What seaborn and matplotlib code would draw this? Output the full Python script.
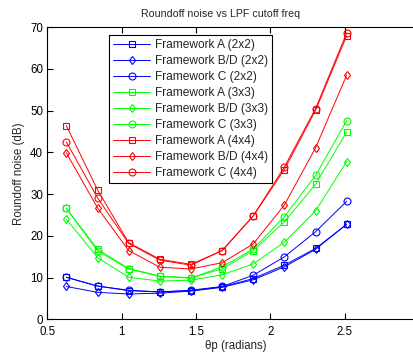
import matplotlib
matplotlib.use("Agg")
import matplotlib.pyplot as plt
import seaborn as sns
import pandas as pd

# cutoff angles (radians)
theta = [0.628, 0.838, 1.047, 1.257, 1.466, 1.676, 1.885, 2.094, 2.304, 2.513]

# roundoff noise (dB) per framework / block size
a_2x2 = [10.1, 8.0, 6.9, 6.6, 6.9, 7.8, 9.8, 13.0, 17.0, 22.8]
bd_2x2 = [7.9, 6.5, 6.1, 6.3, 6.8, 7.7, 9.5, 12.6, 16.8, 22.8]
c_2x2 = [10.1, 8.0, 7.0, 6.6, 7.0, 7.9, 10.6, 15.0, 21.0, 28.3]
a_3x3 = [26.6, 16.8, 12.2, 10.4, 10.0, 12.1, 16.5, 23.4, 32.4, 44.9]
bd_3x3 = [24.0, 14.8, 10.1, 9.2, 9.4, 10.7, 13.3, 18.5, 26.0, 37.8]
c_3x3 = [26.6, 16.4, 12.1, 10.3, 9.9, 12.6, 16.9, 24.6, 34.5, 47.6]
a_4x4 = [46.4, 31.0, 18.4, 14.4, 13.2, 16.5, 24.8, 35.9, 50.1, 67.9]
bd_4x4 = [39.9, 26.7, 16.5, 12.5, 12.1, 13.6, 18.1, 27.4, 41.1, 58.5]
c_4x4 = [42.5, 29.1, 18.2, 14.2, 13.0, 16.5, 24.8, 36.5, 50.5, 68.6]

labels = ["Framework A (2x2)", "Framework B/D (2x2)", "Framework C (2x2)",
          "Framework A (3x3)", "Framework B/D (3x3)", "Framework C (3x3)",
          "Framework A (4x4)", "Framework B/D (4x4)", "Framework C (4x4)"]
series = [a_2x2, bd_2x2, c_2x2, a_3x3, bd_3x3, c_3x3, a_4x4, bd_4x4, c_4x4]
colors = ["#0000ff"] * 3 + ["#00ff00"] * 3 + ["#ff0000"] * 3
markers = ["s", "d", "o"] * 3

sns.set_style("ticks")
plt.rcParams["font.family"] = ["Liberation Sans", "DejaVu Sans"]
plt.rcParams["font.size"] = 8

fig = plt.figure(figsize=(4.14, 3.54), dpi=100)
# axes runs a little past the right edge, like the cropped original
ax = fig.add_axes([0.1143, 0.0975, 0.91, 0.826])

for lab, vals, col, mk in zip(labels, series, colors, markers):
    df = pd.DataFrame({"theta": theta, "noise": vals})
    sns.lineplot(data=df, x="theta", y="noise", ax=ax, color=col, marker=mk,
                 markersize=5 if mk != "d" else 4.5, markerfacecolor="none",
                 markeredgecolor=col, markeredgewidth=0.8, linewidth=0.7,
                 label=lab)

ax.set_xlim(0.5, 3.0 * 0.91 / 0.898 - 0.5 * (0.91 / 0.898 - 1))
ax.set_ylim(0, 70)
ax.set_xticks([0.5, 1, 1.5, 2, 2.5])
ax.set_xticklabels(["0.5", "1", "1.5", "2", "2.5"])
ax.set_yticks(range(0, 71, 10))
ax.tick_params(direction="in", length=4, width=0.8, top=True, right=False,
               labelsize=8.3, colors="black")
ax.tick_params(axis="x", pad=5)
ax.tick_params(axis="y", pad=3)
for sp in ax.spines.values():
    sp.set_linewidth(0.8)
    sp.set_color("black")

ax.set_xlabel("θp (radians)", fontsize=8.3, labelpad=1)
ax.set_ylabel("Roundoff noise (dB)", fontsize=8.3, labelpad=4)
ax.set_title("Roundoff noise vs LPF cutoff freq", fontsize=7.7, x=0.46, pad=7)

leg = ax.legend(loc="upper left", bbox_to_anchor=(0.263, 0.901),
                bbox_transform=fig.transFigure, fontsize=8.6, frameon=True,
                fancybox=False, edgecolor="black", framealpha=1,
                handlelength=3.1, labelspacing=0.33, borderpad=0.35,
                handletextpad=0.4, borderaxespad=0)
leg.get_frame().set_linewidth(0.8)

fig.savefig("out.png", dpi=100)
